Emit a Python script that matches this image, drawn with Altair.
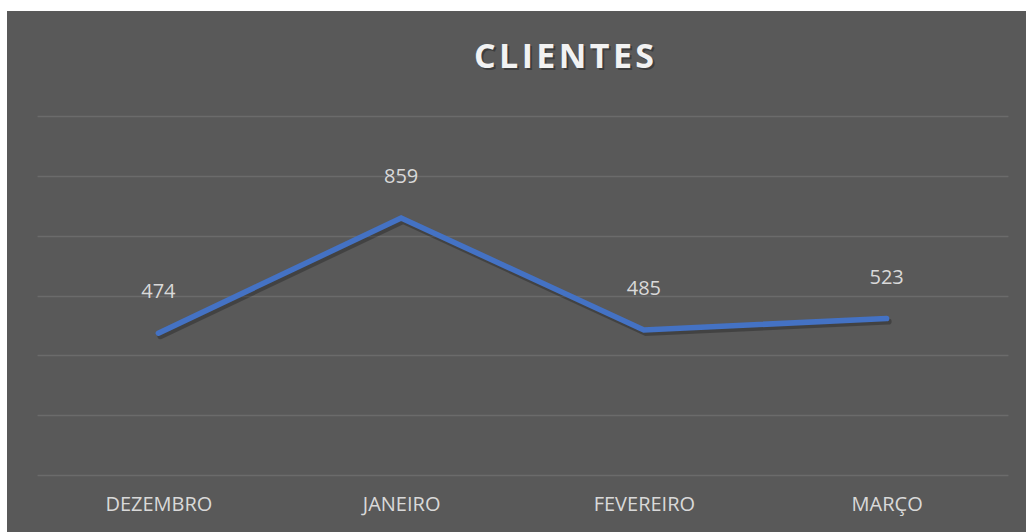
import altair as alt
import pandas as pd

months = ["DEZEMBRO", "JANEIRO", "FEVEREIRO", "MARÇO"]
clientes = [474, 859, 485, 523]
title_text = "C\u200aL\u200aI\u200aE\u200aN\u200aT\u200aE\u200aS"

df = pd.DataFrame({"mes": months, "clientes": clientes})

W, H = 971, 359
PL, PT, PR, PB = 37, 116, 18, 57
BG = "#595959"
FONT = "Open Sans"

base = alt.Chart(df)

one = base.transform_filter("datum.mes == 'DEZEMBRO'")
white_top = one.mark_rect(fill="#ffffff", clip=False).encode(
    x=alt.value(-PL), x2=alt.value(W + PR),
    y=alt.value(-PT), y2=alt.value(11 - PT),
)
white_left = one.mark_rect(fill="#ffffff", clip=False).encode(
    x=alt.value(-PL), x2=alt.value(7 - PL),
    y=alt.value(-PT), y2=alt.value(H + PB),
)

xenc = alt.X("mes:N", sort=months, scale=alt.Scale(type="point", padding=0.5),
             axis=alt.Axis(title=None, domain=False, ticks=False, labelAngle=0,
                           labelColor="#d9d9d9", labelFont=FONT, labelFontSize=20,
                           labelPadding=19, grid=False))
yenc = alt.Y("clientes:Q", scale=alt.Scale(domain=[0, 1200], nice=False),
             axis=alt.Axis(title=None, domain=False, ticks=False, labels=False,
                           values=[0, 200, 400, 600, 800, 1000, 1200],
                           grid=True, gridColor="#6b6b6b", gridWidth=1.3))

shadow = base.mark_line(color="#000000", opacity=0.25, strokeWidth=6,
                        xOffset=2, yOffset=3, strokeCap="round").encode(x=xenc, y=yenc)
line = base.mark_line(color="#4472C4", strokeWidth=5.5, strokeCap="round",
                      strokeJoin="miter").encode(x=xenc, y=yenc)

labels = base.mark_text(color="#d9d9d9", font=FONT, fontSize=20, dy=-41).encode(
    x=xenc, y=yenc, text=alt.Text("clientes:Q"))

title_shadow = one.mark_text(
    color="#000000", opacity=0.3, font=FONT, fontSize=34, fontWeight="bold",
    align="center", baseline="middle").encode(
    x=alt.value(564 - PL + 2), y=alt.value(58 - PT + 2), text=alt.value(title_text))
title = one.mark_text(
    color="#f2f2f2", font=FONT, fontSize=34, fontWeight="bold",
    align="center", baseline="middle").encode(
    x=alt.value(564 - PL), y=alt.value(58 - PT), text=alt.value(title_text))

chart = alt.layer(white_top, white_left, shadow, line, labels, title_shadow, title).properties(
    width=W, height=H,
    autosize=alt.AutoSizeParams(type="none"),
    padding={"left": PL, "top": PT, "right": PR, "bottom": PB},
    background=BG,
).configure_view(stroke=None)

chart.save("out.html", embed_options={"renderer": "svg", "actions": False})
